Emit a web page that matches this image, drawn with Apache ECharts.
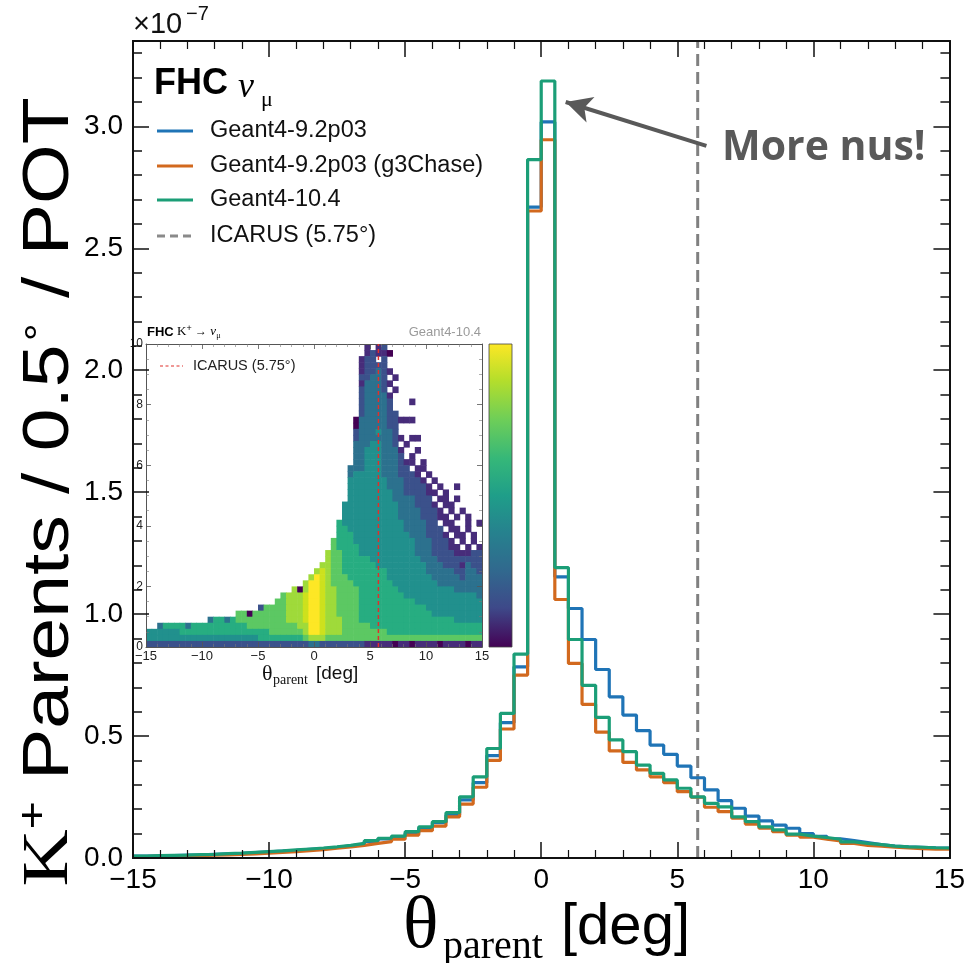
<!DOCTYPE html>
<html><head><meta charset="utf-8">
<script src="https://cdn.jsdelivr.net/npm/echarts@6/dist/echarts.min.js"></script>
<style>html,body{margin:0;padding:0;background:#fff}#c{width:968px;height:963px}</style>
</head><body><div id="c"></div>
<script>
// ---------------- data (units of 1e-7 K+ parents / 0.5 deg / POT) ----------------
const binLow = -15, binWidth = 0.5, nBins = 60;
const seriesNames = ['Geant4-9.2p03', 'Geant4-9.2p03 (g3Chase)', 'Geant4-10.4'];
const g4_92p03 = [
  0.008,0.009,0.010,0.012,0.013,0.015,0.017,0.019,0.022,0.025,
  0.028,0.031,0.035,0.039,0.044,0.050,0.057,0.068,0.078,0.088,
  0.101,0.122,0.145,0.176,0.238,0.309,0.420,0.555,0.784,2.669,
  3.018,1.153,1.023,0.896,0.773,0.661,0.586,0.522,0.463,0.425,
  0.377,0.329,0.279,0.235,0.204,0.172,0.152,0.135,0.122,0.100,
  0.089,0.079,0.071,0.063,0.055,0.049,0.046,0.044,0.042,0.041];
const g4_92p03_g3Chase = [
  0.006,0.007,0.008,0.009,0.010,0.012,0.013,0.015,0.017,0.020,
  0.023,0.026,0.030,0.034,0.040,0.045,0.052,0.060,0.067,0.077,
  0.094,0.112,0.131,0.169,0.221,0.290,0.400,0.529,0.750,2.653,
  2.945,1.060,0.798,0.630,0.516,0.439,0.392,0.361,0.333,0.309,
  0.272,0.249,0.208,0.190,0.163,0.139,0.122,0.108,0.094,0.085,
  0.077,0.070,0.060,0.052,0.049,0.044,0.041,0.038,0.036,0.036];
const g4_104 = [
  0.008,0.010,0.011,0.012,0.014,0.015,0.018,0.020,0.023,0.026,
  0.029,0.033,0.037,0.041,0.046,0.052,0.060,0.071,0.081,0.090,
  0.108,0.128,0.149,0.186,0.251,0.333,0.449,0.593,0.836,2.864,
  3.186,1.191,0.896,0.708,0.577,0.484,0.436,0.381,0.347,0.320,
  0.286,0.251,0.224,0.210,0.169,0.149,0.128,0.115,0.098,0.090,
  0.084,0.077,0.066,0.060,0.055,0.049,0.046,0.044,0.042,0.041];
const icarusAngle = 5.75;
const yMax = 3.35;
const moreNusTail = [6.07, 2.92], moreNusTip = [0.9, 3.10];

// inset: 2D histogram (Geant4-10.4), columns = 0.5 deg bins from -15, rows = 0.2 units, top row first
// '.' = empty, 0..9 = colour level (low..high)
const D = n => '.'.repeat(n);
const heatRows = [
  D(39)+'1.12'+D(17),
  D(39)+'1211'+'0'+D(16),
  D(38)+'122.2'+D(17),
  D(38)+'12222'+D(17),
  D(38)+'12232'+'1'+D(16),
  D(38)+'22332'+'.1'+D(15),
  D(38)+'13332'+'1'+D(16),
  D(38)+'23332'+'.1'+D(15),
  D(38)+'23333'+'1'+D(16),
  D(38)+'23333'+'2'+'...'+'1'+D(12),
  D(38)+'23333'+'2'+D(16),
  D(38)+'23333'+'22'+D(15),
  D(37)+'0'+'33333'+'22111'+D(12),
  D(37)+'0'+'33333'+'22'+D(15),
  D(37)+'2'+'33343'+'32'+D(15),
  D(37)+'2'+'33333'+'321.11'+D(11),
  D(37)+'3'+'33443'+'32.1'+D(13),
  D(37)+'3'+'34443'+'331..1'+D(11),
  D(37)+'3'+'34443'+'332'+'.1'+D(12),
  D(37)+'3'+'34443'+'3321'+'1.1'+D(10),
  D(36)+'33'+'34443'+'3322'+'.11'+D(10),
  D(36)+'34'+'44443'+'3322'+'21.1.........',
  D(36)+'44'+'44444'+'3332'+'221.1........',
  D(36)+'44'+'44444'+'3332'+'2221.1..1....',
  D(36)+'44'+'44444'+'4332'+'22211.1......',
  D(36)+'44'+'44444'+'4333'+'3222.11.1....',
  D(35)+'444'+'44444'+'4433'+'32221.11.....',
  D(35)+'444'+'44444'+'4433'+'332221.1.1...',
  D(35)+'444'+'44444'+'4433'+'3322211.1.1..',
  D(34)+'5'+'444'+'44444'+'4443'+'33322.11..1.1',
  D(34)+'5'+'544'+'44444'+'4443'+'333222.11.1..',
  D(34)+'5'+'554'+'44444'+'4444'+'3332221.11.1.',
  D(33)+'65'+'554'+'44444'+'4444'+'43332221.1.1.',
  D(33)+'65'+'555'+'44444'+'4444'+'433322211.1.1',
  D(32)+'766'+'555'+'44444'+'4444'+'4333222211122',
  D(32)+'766'+'555'+'55444'+'4444'+'4433322222222',
  D(31)+'77'+'66'+'555'+'55544'+'4444'+'444'+'3332'+'221'+'322',
  D(30)+'787'+'66'+'555'+'55555'+'4444'+'444'+'3333'+'322'+'332',
  D(29)+'7987'+'66'+'655'+'55555'+'4444'+'444'+'4333'+'332'+'333',
  D(28)+'7998'+'7'+'66'+'665'+'55555'+'5444'+'444'+'4433'+'333'+'333',
  D(26)+'70'+'7998'+'7'+'76'+'666'+'55555'+'5544'+'444'+'4444'+'433'+'333',
  D(24)+'6777'+'8'+'99'+'8'+'7'+'76'+'666'+'55555'+'5554'+'444'+'4444'+'444'+'443',
  D(23)+'66777'+'8'+'99'+'8'+'7'+'76'+'666'+'55555'+'5555'+'544'+'4444'+'444'+'444',
  D(20)+'2666'+'6777'+'8'+'99'+'8'+'7'+'76'+'666'+'55555'+'5555'+'555'+'4444'+'444'+'444',
  D(16)+'6606'+'66666'+'777'+'8'+'99'+'8'+'7'+'76'+'666'+'55555'+'5555'+'555'+'5444'+'444'+'444',
  D(11)+'35535'+'6666'+'66666'+'777'+'8'+'99'+'8'+'7'+'77'+'666'+'55555'+'5555'+'555'+'5555'+'544'+'444',
  '..3'+'5555'+'3'+'555'+'55555'+'5566'+'66666'+'667'+'7'+'99'+'8'+'7'+'77'+'666'+'66555'+'5555'+'555'+'5555'+'555'+'555',
  '44'+'444455555'+'55555'+'5555'+'55666'+'666'+'7'+'99'+'8'+'7'+'77'+'666'+'66666'+'5555'+'555'+'5555'+'555'+'555',
  '4'.repeat(20)+'5'.repeat(8)+'6'+'77'+'7'+'6'.repeat(28),
  '2'.repeat(29)+'33'+'2'.repeat(8)+'111110110111101111011'
];
const heatCellW = 0.5, heatCellH = 0.2;
const palette = ['#440154','#472c7a','#3b518b','#2c718e','#21908d','#27ad81','#5cc863','#9fda3a','#cde11d','#fde725'];

// ---------------- build ----------------
const edges = Array.from({length: nBins + 1}, (_, i) => binLow + i * binWidth);
const stepData = vals => { const d = vals.map((v, i) => [edges[i], v]); d.push([edges[nBins], vals[nBins - 1]]); return d; };
const heatCells = [];
heatRows.forEach((row, k) => {
  const r = heatRows.length - 1 - k;
  for (let c = 0; c < Math.min(row.length, 60); c++) {
    const ch = row[c];
    if (ch !== '.') heatCells.push([binLow + c * heatCellW, r * heatCellH, +ch]);
  }
});

const SANS = 'Liberation Sans', SERIF = 'Liberation Serif';
const colors = ['#1f74b6', '#d2691e', '#1b9e77'];
const minus = v => String(v).replace('-', '\u2212');

function xAx(grid, pos, labels, small) {
  return {type:'value', gridIndex:grid, position:pos, min:-15, max:15, interval:5, z: small ? 4 : 6,
    axisLine:{show:true, onZero:false, lineStyle:{color: small ? '#555' : '#111', width: small ? 1 : 2}},
    axisTick:{show:true, inside:true, length: small ? 5 : 16, lineStyle:{color: small ? '#555' : '#111', width: small ? 0.8 : 1.5}},
    minorTick:{show:true, splitNumber:5, length: small ? 3 : 8, lineStyle:{color: small ? '#777' : '#111', width: small ? 0.6 : 1.2}},
    axisLabel:{show:labels, fontSize: small ? 13 : 28, fontFamily:SANS, color: small ? '#222' : '#000', margin: small ? 3 : 8, formatter: minus},
    splitLine:{show:false}};
}
function yAx(grid, pos, labels, interval, tickLen, max, fmt, small, minor) {
  const o = {type:'value', gridIndex:grid, position:pos, min:0, max:max, interval:interval, z: small ? 4 : 6,
    axisLine:{show:true, onZero:false, lineStyle:{color: small ? '#555' : '#111', width: small ? 1 : 2}},
    axisTick:{show:true, inside:true, length:tickLen, lineStyle:{color: small ? '#555' : '#111', width: small ? 0.8 : 1.5}},
    axisLabel:{show:labels, showMaxLabel: !!small, fontSize: small ? 12 : 28, fontFamily:SANS, color: small ? '#222' : '#000', margin: small ? 3 : 10, formatter:fmt},
    splitLine:{show:false}};
  if (minor) o.minorTick = {show:true, splitNumber:minor, length:3, lineStyle:{color:'#777', width:0.6}};
  return o;
}

const chart = echarts.init(document.getElementById('c'), null, {renderer:'canvas'});
const option = {
  animation:false,
  backgroundColor:'#fff',
  grid:[
    {left:133, right:17, top:41, bottom:105},
    {left:146, top:344, width:336, height:303}
  ],
  xAxis:[
    xAx(0,'bottom',true,false), xAx(0,'top',false,false),
    xAx(1,'bottom',true,true), xAx(1,'top',false,true)
  ],
  yAxis:[
    yAx(0,'left',true,0.5,16,yMax,v=>v.toFixed(1),false),
    yAx(0,'left',false,0.1,9,yMax,null,false),
    yAx(0,'right',false,0.5,16,yMax,null,false),
    yAx(0,'right',false,0.1,9,yMax,null,false),
    yAx(1,'left',true,2,5,10,v=>String(v),true,4),
    yAx(1,'right',false,2,5,10,null,true,4)
  ],
  series:[
    {type:'line', name:'ICARUS (5.75°)', xAxisIndex:0, yAxisIndex:0, z:2, symbol:'none', silent:true,
     data:[[icarusAngle,0],[icarusAngle,yMax]],
     lineStyle:{color:'#808080', width:3, type:[12,6]},
     markLine:{silent:true, symbol:['none','arrow'], symbolSize:[20,26], z:8,
       lineStyle:{color:'#595959', width:4, type:'solid'}, label:{show:false},
       data:[[{coord:moreNusTail},{coord:moreNusTip}]]}},
    ...[g4_92p03, g4_92p03_g3Chase, g4_104].map((vals, i) => ({
      type:'line', name:seriesNames[i], xAxisIndex:0, yAxisIndex:0, z:3, step:'end', symbol:'none',
      data:stepData(vals), lineStyle:{color:colors[i], width:3.2}, itemStyle:{color:colors[i]}
    })),
    {type:'custom', name:'inset', xAxisIndex:2, yAxisIndex:4, z:3, silent:true, data:heatCells,
     encode:{x:0, y:1},
     renderItem:(params, api) => {
       const t = api.value(0), v = api.value(1), lvl = api.value(2);
       const p0 = api.coord([t, v + heatCellH]);
       const p1 = api.coord([t + heatCellW, v]);
       return {type:'rect', shape:{x:p0[0], y:p0[1], width:p1[0]-p0[0]+0.6, height:p1[1]-p0[1]+0.6},
               style:{fill:palette[lvl]}};
     }},
    {type:'line', name:'ICARUS inset', xAxisIndex:2, yAxisIndex:4, z:5, symbol:'none', silent:true,
     data:[[icarusAngle,0],[icarusAngle,10]], lineStyle:{color:'#e0302c', width:1.5, type:[4,3]}}
  ],
  graphic:[
    {type:'rect', id:'insetBg', z:1, shape:{x:128, y:320, width:387, height:374}, style:{fill:'#fff'}},
    {type:'rect', id:'cbar', z:4, shape:{x:489, y:344, width:23, height:303},
     style:{stroke:'#444', lineWidth:0.8, fill:new echarts.graphic.LinearGradient(0,0,0,1,[
       {offset:0,color:'#fde725'},{offset:0.12,color:'#b5de2b'},{offset:0.25,color:'#6ece58'},{offset:0.38,color:'#35b779'},
       {offset:0.5,color:'#1f9e89'},{offset:0.62,color:'#26828e'},{offset:0.75,color:'#31688e'},{offset:0.87,color:'#3e4989'},
       {offset:1,color:'#440154'}])}},
    {type:'text', id:'insTitle', z:7, x:147, y:332, style:{text:'{b|FHC} {k|K}{p|+}{a| \u2192 }{n|\u03bd}{m|\u03bc}', verticalAlign:'middle',
      rich:{b:{fontFamily:SANS, fontWeight:'bold', fontSize:13, fill:'#000'}, k:{fontFamily:SERIF, fontSize:13, fill:'#000'},
            p:{fontFamily:SANS, fontSize:9, fill:'#000', verticalAlign:'top', padding:[0,0,6,0]}, a:{fontFamily:SANS, fontSize:12, fill:'#000'},
            n:{fontFamily:SERIF, fontStyle:'italic', fontSize:13, fill:'#000'}, m:{fontFamily:SERIF, fontSize:8, fill:'#000', verticalAlign:'bottom', padding:[5,0,0,0]}}}},
    {type:'text', id:'insG4', z:7, x:481, y:332, style:{text:'Geant4-10.4', align:'right', verticalAlign:'middle', fontFamily:SANS, fontSize:13, fill:'#9a9a9a'}},
    {type:'line', id:'insLegL', z:7, shape:{x1:160, y1:366, x2:183, y2:366}, style:{stroke:'#e0302c', lineWidth:1.2, lineDash:[3,2.5]}},
    {type:'text', id:'insLegT', z:7, x:193, y:366, style:{text:'ICARUS (5.75\u00b0)', verticalAlign:'middle', fontFamily:SANS, fontSize:14.5, fill:'#222'}},
    {type:'text', id:'insTh', z:7, x:262, y:674, style:{text:'\u03b8', verticalAlign:'middle', fontFamily:SERIF, fontSize:22, fill:'#111'}},
    {type:'text', id:'insThSub', z:7, x:273, y:680, style:{text:'parent', verticalAlign:'middle', fontFamily:SERIF, fontSize:14, fill:'#111'}},
    {type:'text', id:'insDeg', z:7, x:316, y:674, style:{text:'[deg]', verticalAlign:'middle', fontFamily:SANS, fontSize:19, fill:'#111'}},
    {type:'text', id:'fhc', z:9, x:154, y:84, style:{text:'FHC', verticalAlign:'middle', fontFamily:SANS, fontWeight:'bold', fontSize:36, fill:'#000'}},
    {type:'text', id:'nu', z:9, x:238, y:88, style:{text:'\u03bd', verticalAlign:'middle', fontFamily:SERIF, fontStyle:'italic', fontSize:36, fill:'#000'}},
    {type:'text', id:'mu', z:9, x:261, y:100, style:{text:'\u03bc', verticalAlign:'middle', fontFamily:SERIF, fontSize:22, fill:'#000'}},
    {type:'line', id:'lg0', z:9, shape:{x1:157, y1:131, x2:193, y2:131}, style:{stroke:colors[0], lineWidth:3}},
    {type:'line', id:'lg1', z:9, shape:{x1:157, y1:166, x2:193, y2:166}, style:{stroke:colors[1], lineWidth:3}},
    {type:'line', id:'lg2', z:9, shape:{x1:157, y1:200, x2:193, y2:200}, style:{stroke:colors[2], lineWidth:3}},
    {type:'line', id:'lg3', z:9, shape:{x1:157, y1:236, x2:193, y2:236}, style:{stroke:'#8a8a8a', lineWidth:3, lineDash:[8,5]}},
    {type:'text', id:'lt0', z:9, x:210, y:131, style:{text:seriesNames[0], verticalAlign:'middle', fontFamily:SANS, fontSize:23.5, fill:'#111'}},
    {type:'text', id:'lt1', z:9, x:210, y:166, style:{text:seriesNames[1], verticalAlign:'middle', fontFamily:SANS, fontSize:23.5, fill:'#111'}},
    {type:'text', id:'lt2', z:9, x:210, y:200, style:{text:seriesNames[2], verticalAlign:'middle', fontFamily:SANS, fontSize:23.5, fill:'#111'}},
    {type:'text', id:'lt3', z:9, x:210, y:236, style:{text:'ICARUS (5.75\u00b0)', verticalAlign:'middle', fontFamily:SANS, fontSize:23.5, fill:'#111'}},
    {type:'text', id:'exp1', z:9, x:133, y:25, style:{text:'\u00d710', verticalAlign:'middle', fontFamily:SANS, fontSize:29, fill:'#111'}},
    {type:'text', id:'exp2', z:9, x:186, y:14, style:{text:'\u22127', verticalAlign:'middle', fontFamily:SANS, fontSize:20, fill:'#111'}},
    {type:'text', id:'more', z:9, x:722, y:148, style:{text:'More nus!', verticalAlign:'middle', fontFamily:'Open Sans', fontWeight:'bold', fontSize:41, fill:'#595959'}},
    {type:'text', id:'ytitle', z:9, x:50, y:492, rotation:Math.PI/2, scaleX:1.2,
     style:{text:'{k|K}{p|+}{t| Parents / 0.5}{d|\u2218}{t| / POT}', align:'center', verticalAlign:'middle',
       rich:{k:{fontFamily:SERIF, fontSize:66, fill:'#000', lineHeight:70}, p:{fontFamily:SANS, fontSize:40, fill:'#000', verticalAlign:'top', lineHeight:40},
             t:{fontFamily:SANS, fontSize:64, fill:'#000', lineHeight:70}, d:{fontFamily:SANS, fontSize:34, fill:'#000', verticalAlign:'top', lineHeight:40}}}},
    {type:'text', id:'xTh', z:9, x:403, y:928, style:{text:'\u03b8', verticalAlign:'middle', fontFamily:SERIF, fontSize:74, fill:'#000'}},
    {type:'text', id:'xSub', z:9, x:443, y:947, style:{text:'parent', verticalAlign:'middle', fontFamily:SERIF, fontSize:40, fill:'#000'}},
    {type:'text', id:'xDeg', z:9, x:561, y:928, style:{text:'[deg]', verticalAlign:'middle', fontFamily:SANS, fontSize:58, fill:'#000'}}
  ]
};
chart.setOption(option);
</script></body></html>
